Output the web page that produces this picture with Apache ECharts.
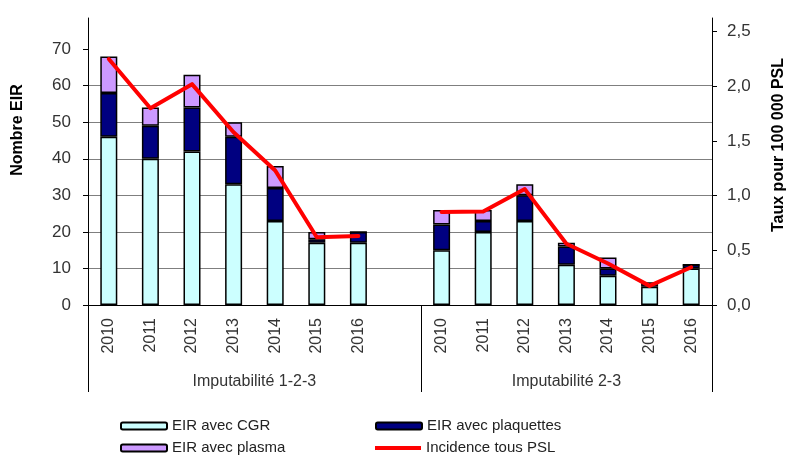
<!DOCTYPE html>
<html>
<head>
<meta charset="utf-8">
<script src="https://cdn.jsdelivr.net/npm/echarts@6/dist/echarts.min.js"></script>
<style>
  html, body { margin: 0; padding: 0; background: #fff; }
  #chart { width: 795px; height: 457px; }
</style>
</head>
<body>
<div id="chart"></div>
<script>
// two groups of years, with an empty slot between them
const years = ['2010', '2011', '2012', '2013', '2014', '2015', '2016', '',
  '2010', '2011', '2012', '2013', '2014', '2015', '2016'];
const groups = ['Imputabilité 1-2-3', 'Imputabilité 2-3'];

const cgr = [46, 40, 42, 33, 23, 17, 17, null, 15, 20, 23, 11, 8, 5, 10];
const plaquettes = [12, 9, 12, 13, 9, 1, 3, null, 7, 3, 7, 5, 2, 1, 1];
const plasma = [10, 5, 9, 4, 6, 2, 0, null, 4, 3, 3, 1, 3, 0, 0];
const incidence = [2.25, 1.80, 2.02, 1.58, 1.23, 0.62, 0.63, null,
  0.85, 0.855, 1.06, 0.56, 0.38, 0.175, 0.345];

const leftTicks = [0, 10, 20, 30, 40, 50, 60, 70];
const rightTicks = [0, 0.5, 1, 1.5, 2, 2.5];

// group boundaries / centres on a 0..n slot scale
const gap = years.indexOf('');
const groupBounds = [0, gap + 1, years.length];
const groupCenters = [groupBounds[1] / 2, (groupBounds[1] + groupBounds[2]) / 2];

const font = "'Liberation Sans', Arial, sans-serif";
const chart = echarts.init(document.getElementById('chart'));

const barStyle = (color) => ({ color: color, borderColor: '#000', borderWidth: 1.5 });

chart.setOption({
  animation: false,
  textStyle: { fontFamily: font },
  grid: { left: 88, right: 72, top: 18, bottom: 152 },
  legend: {
    left: 115,
    top: 413,
    width: 520,
    itemWidth: 46,
    itemHeight: 7,
    itemGap: 6,
    textStyle: { fontFamily: font, fontSize: 15, color: '#222', width: 197, lineHeight: 16 },
    data: [
      { name: 'EIR avec CGR', icon: 'roundRect' },
      { name: 'EIR avec plaquettes', icon: 'roundRect' },
      { name: 'EIR avec plasma', icon: 'roundRect' },
      { name: 'Incidence tous PSL', icon: 'path://M0,0 L46,0 L46,4 L0,4 Z' }
    ]
  },
  xAxis: [
    {
      type: 'category',
      position: 'bottom',
      data: years,
      axisLine: { lineStyle: { color: '#000', width: 1 } },
      axisTick: { interval: 0, length: 55, lineStyle: { color: '#000' } },
      axisLabel: { interval: 0, rotate: 90, margin: 13, fontSize: 16, color: '#333', fontFamily: font }
    },
    {
      type: 'value',
      position: 'bottom',
      min: 0,
      max: years.length,
      axisLine: { show: false },
      splitLine: { show: false },
      axisTick: { show: true, customValues: groupBounds, length: 87, lineStyle: { color: '#000' } },
      axisLabel: {
        customValues: groupCenters,
        formatter: (v) => groups[groupCenters.indexOf(v)],
        margin: 69,
        fontSize: 16,
        color: '#333',
        fontFamily: font
      }
    }
  ],
  yAxis: [
    {
      type: 'value',
      position: 'left',
      min: 0,
      max: 78.5,
      name: 'Nombre EIR',
      nameLocation: 'middle',
      nameGap: 62,
      nameTextStyle: { fontWeight: 'bold', fontSize: 16, color: '#000', fontFamily: font, padding: [0, 0, 0, 63] },
      axisLine: { show: true, lineStyle: { color: '#000' } },
      axisTick: { show: true, customValues: leftTicks, length: 5, lineStyle: { color: '#000' } },
      axisLabel: { customValues: leftTicks, margin: 17, fontSize: 17, color: '#333', fontFamily: font },
      splitLine: { show: true, showMaxLine: false, lineStyle: { color: '#7f7f7f', width: 1 } }
    },
    {
      type: 'value',
      position: 'right',
      min: 0,
      max: 2.625,
      name: 'Taux pour 100 000 PSL',
      nameLocation: 'middle',
      nameGap: 59,
      nameTextStyle: { fontWeight: 'bold', fontSize: 16, color: '#000', fontFamily: font, padding: [0, 0, 0, 33] },
      axisLine: { show: true, lineStyle: { color: '#000' } },
      axisTick: { show: true, customValues: rightTicks, length: 5, lineStyle: { color: '#000' } },
      axisLabel: {
        customValues: rightTicks,
        formatter: (v) => v.toFixed(1).replace('.', ','),
        margin: 15,
        fontSize: 17,
        color: '#333',
        fontFamily: font
      },
      splitLine: { show: false }
    }
  ],
  series: [
    { name: 'EIR avec CGR', type: 'bar', stack: 'eir', barWidth: 17, data: cgr, itemStyle: barStyle('#CCFFFF') },
    { name: 'EIR avec plaquettes', type: 'bar', stack: 'eir', barWidth: 17, data: plaquettes, itemStyle: barStyle('#000080') },
    { name: 'EIR avec plasma', type: 'bar', stack: 'eir', barWidth: 17, data: plasma, itemStyle: barStyle('#CC99FF') },
    {
      name: 'Incidence tous PSL',
      type: 'line',
      yAxisIndex: 1,
      data: incidence,
      symbol: 'none',
      z: 5,
      lineStyle: { color: '#FF0000', width: 4, join: 'round', cap: 'round' },
      itemStyle: { color: '#FF0000' }
    }
  ]
});
</script>
</body>
</html>
